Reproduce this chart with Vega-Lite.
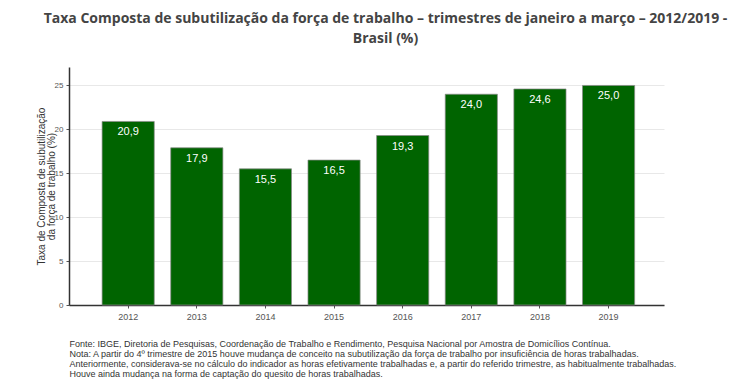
{
  "$schema": "https://vega.github.io/schema/vega-lite/v6.json",
  "width": 595,
  "height": 238,
  "padding": {"left": 36, "top": 12, "right": 5, "bottom": 5},
  "background": "white",
  "title": {
    "text": ["Taxa Composta de subutilização da força de trabalho – trimestres de janeiro a março – 2012/2019 -", "Brasil (%)"],
    "font": "Open Sans",
    "fontSize": 14,
    "fontWeight": "bold",
    "color": "#444444",
    "lineHeight": 20,
    "anchor": "middle",
    "frame": "group",
    "dx": 19,
    "offset": 21
  },
  "config": {
    "view": {"stroke": null},
    "locale": {"number": {"decimal": ",", "thousands": ".", "grouping": [3], "currency": ["R$", ""]}},
    "axis": {"labelFont": "Liberation Sans", "titleFont": "Liberation Sans"}
  },
  "data": {
    "values": [
      {"ano": "2012", "taxa": 20.9},
      {"ano": "2013", "taxa": 17.9},
      {"ano": "2014", "taxa": 15.5},
      {"ano": "2015", "taxa": 16.5},
      {"ano": "2016", "taxa": 19.3},
      {"ano": "2017", "taxa": 24.0},
      {"ano": "2018", "taxa": 24.6},
      {"ano": "2019", "taxa": 25.0}
    ]
  },
  "encoding": {
    "x": {
      "field": "ano",
      "type": "ordinal",
      "scale": {"paddingInner": 0.24, "paddingOuter": 0.455, "align": 0.53},
      "axis": {
        "title": [
          "Fonte: IBGE, Diretoria de Pesquisas, Coordenação de Trabalho e Rendimento, Pesquisa Nacional por Amostra de Domicílios Contínua.",
          "Nota: A partir do 4º trimestre de 2015 houve mudança de conceito na subutilização da força de trabalho por insuficiência de horas trabalhadas.",
          "Anteriormente, considerava-se no cálculo do indicador as horas efetivamente trabalhadas e, a partir do referido trimestre, as habitualmente trabalhadas.",
          "Houve ainda mudança na forma de captação do quesito de horas trabalhadas."
        ],
        "titleAnchor": "start",
        "titleAlign": "left",
        "titleFontWeight": "normal",
        "titleFontSize": 9,
        "titleLineHeight": 10,
        "titleColor": "#333333",
        "titlePadding": 18,
        "labelAngle": 0,
        "labelFontSize": 9,
        "labelColor": "#555555",
        "labelPadding": 4,
        "domainColor": "#333333",
        "domainWidth": 1.5,
        "tickColor": "#555555",
        "tickSize": 3
      }
    },
    "y": {
      "field": "taxa",
      "type": "quantitative",
      "scale": {"domain": [0, 27.1], "nice": false},
      "axis": {
        "title": ["Taxa de Composta de subutilização", "da força de trabalho (%)"],
        "titleFontSize": 10,
        "titleFontWeight": "normal",
        "titleColor": "#333333",
        "titleLineHeight": 10,
        "titleAlign": "center",
        "titlePadding": -2,
        "values": [0, 5, 10, 15, 20, 25],
        "labelFontSize": 8,
        "labelColor": "#555555",
        "labelPadding": 3,
        "domainColor": "#333333",
        "domainWidth": 1.5,
        "tickColor": "#555555",
        "tickSize": 3,
        "gridColor": "#e8e8e8",
        "gridWidth": 1
      }
    }
  },
  "layer": [
    {
      "mark": {"type": "bar", "color": "#006400", "stroke": "#8a8a8a", "strokeWidth": 0.7}
    },
    {
      "mark": {"type": "text", "baseline": "top", "dy": 5, "color": "white", "fontSize": 11, "font": "Liberation Sans"},
      "encoding": {"text": {"field": "taxa", "type": "quantitative", "format": ".1f"}}
    }
  ]
}
